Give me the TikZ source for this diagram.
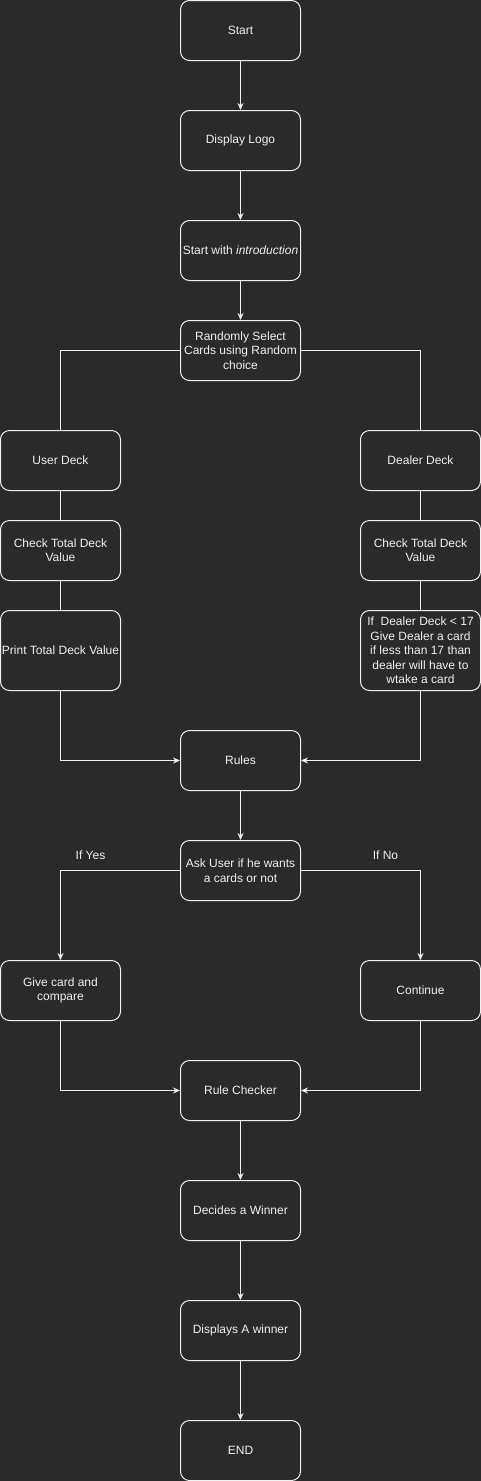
\documentclass[tikz,border=0pt]{standalone}
\usepackage{fontspec}
\setmainfont{Liberation Sans}
\usetikzlibrary{arrows.meta}
\definecolor{bg}{HTML}{2A2A2A}
\definecolor{fg}{HTML}{F0F0F0}
\tikzset{
  box/.style={draw=fg, line width=1pt, rounded corners=9pt, fill=bg, text=fg,
    minimum width=120pt, minimum height=60pt, inner sep=1pt, align=center,
    font=\fontsize{12}{14.4}\selectfont},
  tall/.style={box, minimum height=80pt},
  conn/.style={draw=fg, line width=1pt},
  arr/.style={conn, -{Stealth[length=7pt,width=6pt]}},
  lbl/.style={text=fg, font=\fontsize{12}{14.4}\selectfont, inner sep=0pt}
}
\begin{document}
\begin{tikzpicture}[x=1pt,y=-1pt]
\fill[bg] (0,0) rectangle (481,1481);
\useasboundingbox (0,0) rectangle (481,1481);
\node[box] (start) at (240.5,30.5) {Start};
\node[box] (logo) at (240.5,140.5) {Display Logo};
\node[box] (intro) at (240.5,250.5) {Start with \textit{introduction}};
\node[box] (rand) at (240.5,350.5) {Randomly Select\\Cards using Random\\choice};
\node[box] (user) at (60.5,460.5) {User Deck};
\node[box] (dealer) at (420.5,460.5) {Dealer Deck};
\node[box] (chkL) at (60.5,550.5) {Check Total Deck\\Value};
\node[box] (chkR) at (420.5,550.5) {Check Total Deck\\Value};
\node[tall] (print) at (60.5,650.5) {Print Total Deck Value};
\node[tall] (ifdealer) at (420.5,650.5) {If\ \ Dealer Deck {<} 17\\Give Dealer a card\\if less than 17 than\\dealer will have to\\wtake a card};
\node[box] (rules) at (240.5,760.5) {Rules};
\node[box] (ask) at (240.5,870.5) {Ask User if he wants\\a cards or not};
\node[box] (give) at (60.5,990.5) {Give card and\\compare};
\node[box] (cont) at (420.5,990.5) {Continue};
\node[box] (checker) at (240.5,1090.5) {Rule Checker};
\node[box] (decide) at (240.5,1210.5) {Decides a Winner};
\node[box] (display) at (240.5,1330.5) {Displays A winner};
\node[box] (end) at (240.5,1450.5) {END};
\node[lbl] (yes) at (90.5,855) {If Yes};
\node[lbl] (no) at (385.5,855) {If No};
\draw[arr] (start) -- (logo);
\draw[arr] (logo) -- (intro);
\draw[arr] (intro) -- (rand);
\draw[conn] (rand.west) -| (user.north);
\draw[conn] (rand.east) -| (dealer.north);
\draw[conn] (user) -- (chkL);
\draw[conn] (chkL) -- (print);
\draw[conn] (dealer) -- (chkR);
\draw[conn] (chkR) -- (ifdealer);
\draw[arr] (print.south) |- (rules.west);
\draw[arr] (ifdealer.south) |- (rules.east);
\draw[arr] (rules) -- (ask);
\draw[arr] (ask.west) -| (give.north);
\draw[arr] (ask.east) -| (cont.north);
\draw[arr] (give.south) |- (checker.west);
\draw[arr] (cont.south) |- (checker.east);
\draw[arr] (checker) -- (decide);
\draw[arr] (decide) -- (display);
\draw[arr] (display) -- (end);
\end{tikzpicture}
\end{document}
